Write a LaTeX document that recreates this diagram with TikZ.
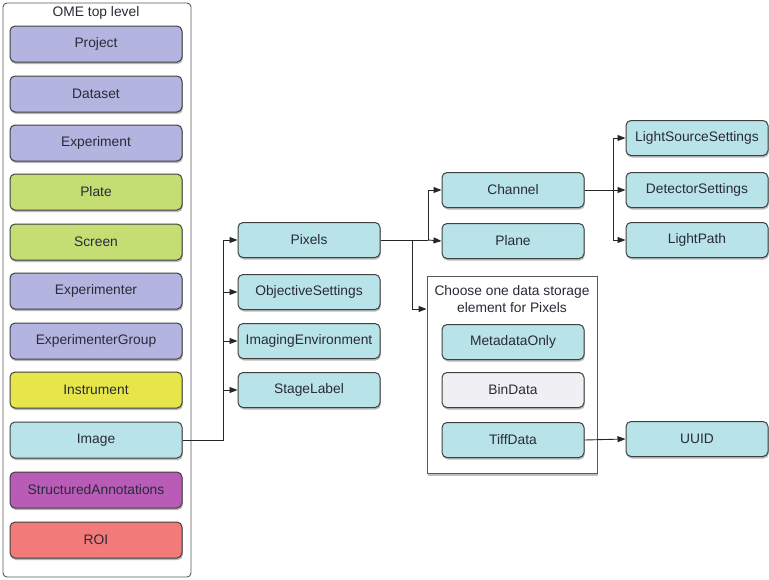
\documentclass[tikz,border=0pt]{standalone}
\usepackage{fontspec}
\setmainfont{Liberation Sans}
\usetikzlibrary{shadows,arrows.meta}
\definecolor{lav}{HTML}{B4B4E0}
\definecolor{grn}{HTML}{C4DE74}
\definecolor{yel}{HTML}{E6E64A}
\definecolor{cya}{HTML}{B8E3E8}
\definecolor{mag}{HTML}{B85CB8}
\definecolor{sal}{HTML}{F27A78}
\definecolor{pal}{HTML}{F0F0F4}
\definecolor{txt}{HTML}{2A2A38}
\tikzset{
  ebox/.style={draw=black!75, line width=1pt, rounded corners=5pt, minimum width=172pt, minimum height=36pt,
    font=\fontsize{13.8}{16}\selectfont, text=txt, inner sep=0pt,
    drop shadow={opacity=0.55, shadow xshift=0.8pt, shadow yshift=-2pt}},
  mbox/.style={ebox, minimum width=142pt, minimum height=35pt},
  conn/.style={line width=0.9pt, draw=black!85},
  arr/.style={conn, -{Triangle[length=8pt,width=6pt]}},
  frame/.style={draw=black!65, line width=0.9pt}
}
\begin{document}
\begin{tikzpicture}[x=1pt,y=-1pt]
\useasboundingbox (0,0) rectangle (769,579);
% left container
\draw[frame, rounded corners=4pt, fill=white] (3,3) rectangle (191,577);
\node[font=\fontsize{13.8}{16}\selectfont, text=txt] (title) at (96,13) {OME top level};
\node[ebox, fill=lav] (project) at (96,44) {Project};
\node[ebox, fill=lav] (dataset) at (96,94) {Dataset};
\node[ebox, fill=lav] (experiment) at (96,143) {Experiment};
\node[ebox, fill=grn] (plate) at (96,192) {Plate};
\node[ebox, fill=grn] (screen) at (96,242) {Screen};
\node[ebox, fill=lav] (experimenter) at (96,291) {Experimenter};
\node[ebox, fill=lav] (expgroup) at (96,341) {ExperimenterGroup};
\node[ebox, fill=yel] (instrument) at (96,390) {Instrument};
\node[ebox, fill=cya] (image) at (96,440) {Image};
\node[ebox, fill=mag] (sa) at (96,490) {StructuredAnnotations};
\node[ebox, fill=sal] (roi) at (96,540) {ROI};
% middle column
\node[mbox, fill=cya] (pixels) at (309,240) {Pixels};
\node[mbox, fill=cya] (objset) at (309,292) {ObjectiveSettings};
\node[mbox, fill=cya] (imgenv) at (309,341) {ImagingEnvironment};
\node[mbox, fill=cya] (stage) at (309,390) {StageLabel};
% channel/plane
\node[mbox, fill=cya] (channel) at (513,190) {Channel};
\node[mbox, fill=cya] (plane) at (513,241) {Plane};
% right column
\node[mbox, fill=cya] (lss) at (697,138) {LightSourceSettings};
\node[mbox, fill=cya] (det) at (697,190) {DetectorSettings};
\node[mbox, fill=cya] (lp) at (697,240) {LightPath};
% storage container
\node[frame, fill=white, minimum width=170pt, minimum height=197pt, inner sep=0pt,
  drop shadow={opacity=0.5, shadow xshift=0.8pt, shadow yshift=-3pt}] (store) at (512,374.5) {};
\node[font=\fontsize{13.8}{17}\selectfont, text=txt, align=center] (storetitle) at (512,299) {Choose one data storage\\element for Pixels};
\node[mbox, fill=cya] (meta) at (513,342) {MetadataOnly};
\node[mbox, fill=pal] (bin) at (513,390) {BinData};
\node[mbox, fill=cya] (tiff) at (513,440) {TiffData};
\node[mbox, fill=cya] (uuid) at (697,439) {UUID};
% connectors
\coordinate (j1) at (223,0);
\draw[conn] (image.east) -- (image.east -| j1) -- (pixels.west -| j1);
\draw[arr] (pixels.west -| j1) -- (pixels.west);
\draw[arr] (objset.west -| j1) -- (objset.west);
\draw[arr] (imgenv.west -| j1) -- (imgenv.west);
\draw[arr] (stage.west -| j1) -- (stage.west);
\coordinate (j2) at (428,0);
\coordinate (j3) at (412,0);
\draw[conn] (pixels.east) -- (pixels.east -| j2);
\draw[arr] (pixels.east -| j2) -- (plane.west);
\draw[conn] (pixels.east -| j2) -- (channel.west -| j2);
\draw[arr] (channel.west -| j2) -- (channel.west);
\coordinate (sa1) at (412,309);
\draw[conn] (pixels.east -| j3) -- (sa1);
\draw[arr] (sa1) -- (sa1 -| store.west);
\coordinate (j4) at (613,0);
\draw[conn] (channel.east) -- (channel.east -| j4);
\draw[arr] (channel.east -| j4) -- (det.west);
\draw[conn] (lss.west -| j4) -- (lp.west -| j4);
\draw[arr] (lss.west -| j4) -- (lss.west);
\draw[arr] (lp.west -| j4) -- (lp.west);
\draw[arr] (tiff.east) -- (uuid.west);
\end{tikzpicture}
\end{document}
